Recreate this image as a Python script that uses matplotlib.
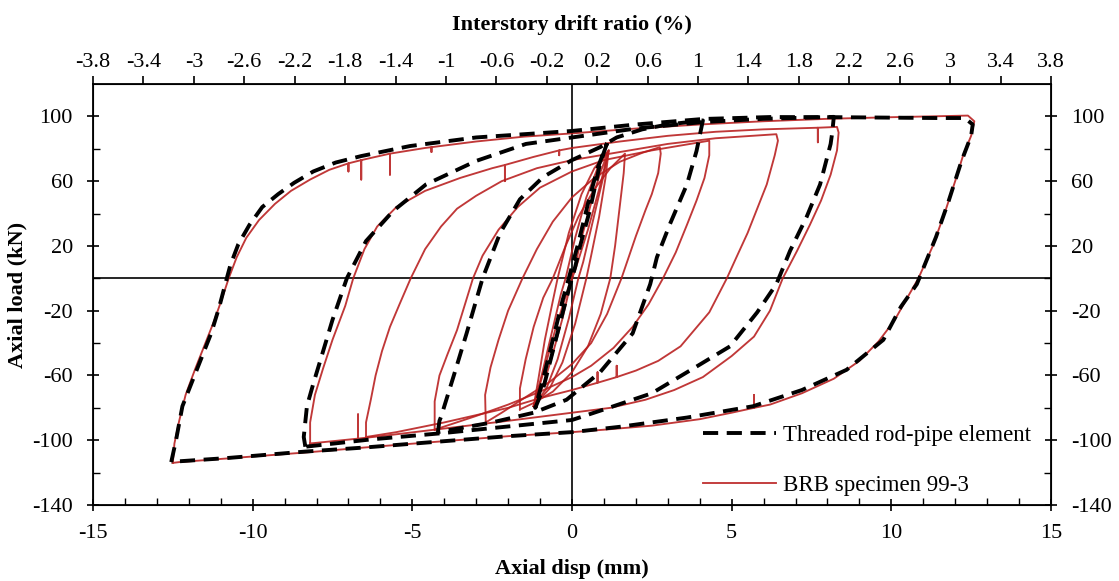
# Axial load vs axial displacement: BRB test 99-3 and threaded rod-pipe model

import numpy as np
import matplotlib.pyplot as plt
from matplotlib.ticker import MultipleLocator, FixedLocator

plt.rcParams['font.family'] = ['Liberation Serif', 'DejaVu Serif']
plt.rcParams['font.size'] = 16
plt.rcParams['axes.unicode_minus'] = False


# TEST LOOPS (BRB specimen 99-3), points as (disp mm, load kN)

brb_125 = [(-12.5, -114), (-12.45, -102), (-12.3, -88), (-12.1, -72), (-11.8, -56), (-11.5, -41),
           (-11.2, -26), (-10.95, -12), (-10.75, 0), (-10.5, 13), (-10.2, 25), (-9.8, 36),
           (-9.3, 46), (-8.8, 54), (-8.2, 61), (-7.6, 67), (-7.0, 71), (-7.0, 66), (-7.0, 71),
           (-6.6, 73), (-6.6, 61), (-6.6, 73), (-5.7, 77), (-5.7, 64), (-5.7, 77),
           (-4.6, 80.5), (-4.4, 81), (-4.4, 78), (-4.4, 81), (-3.0, 84.5), (-1.5, 87.5), (0, 89.5),
           (2, 92.5), (4, 95), (6, 97), (8, 98.5), (10, 99.5), (12.4, 100.5),
           (12.6, 97), (12.5, 88), (12.25, 76), (12.0, 60), (11.7, 42), (11.3, 20), (10.85, 0),
           (10.5, -12), (10.1, -26), (9.6, -39), (9.0, -51), (8.2, -62), (7.2, -71), (6.2, -78),
           (5.7, -80), (5.7, -72), (5.7, -80), (5.0, -83), (4.0, -87), (2.5, -91), (1, -93.5),
           (0, -95), (-2, -97.5), (-4.6, -101.5), (-6.5, -104.5), (-8.3, -107.5), (-10.3, -110.5),
           (-12.3, -113.5), (-12.5, -114)]

brb_8 = [(-8.2, -104), (-8.2, -89), (-8.05, -72), (-7.8, -56), (-7.5, -38), (-7.1, -17),
         (-6.85, 0), (-6.5, 18), (-6.1, 32), (-5.5, 44), (-4.6, 54), (-3.5, 62), (-2.5, 68),
         (-2.1, 70), (-2.1, 60), (-2.1, 70), (-1.2, 75), (-0.4, 79), (-0.4, 76), (-0.4, 79),
         (0, 80.5), (1.5, 84.5), (3, 88), (4.5, 90.5), (6, 92), (7.7, 93), (7.7, 84), (7.7, 93),
         (8.3, 93.5), (8.35, 90), (8.3, 79), (8.1, 64), (7.8, 48), (7.45, 33), (7.05, 17),
         (6.6, 0), (6.2, -20), (5.7, -36), (5.0, -48), (4.1, -61), (3.2, -69), (2.3, -75),
         (1.2, -80), (0, -83), (-2, -88), (-4.1, -93), (-6, -97.5), (-6.7, -99), (-6.7, -84),
         (-6.7, -99), (-8.2, -102), (-8.2, -104)]

brb_65 = [(-6.45, -98), (-6.45, -89), (-6.3, -75), (-6.15, -60), (-5.95, -45), (-5.7, -30),
          (-5.4, -16), (-5.05, 0), (-4.6, 18), (-4.1, 32), (-3.6, 43), (-3.0, 51), (-2.2, 60),
          (-1.1, 68), (0, 73), (1.5, 78), (3, 83), (4.5, 86.5), (6.4, 89),
          (6.45, 85), (6.35, 76), (6.1, 58), (5.8, 43), (5.5, 28), (5.15, 13), (4.85, 0),
          (4.3, -21), (3.4, -42), (2.7, -51), (2.0, -57), (1.4, -61), (1.4, -54), (1.4, -61),
          (0.8, -64.5), (0.8, -58), (0.8, -64.5), (0, -69), (-1, -74), (-2, -80), (-4, -89),
          (-5.5, -95), (-6.45, -98)]

brb_4 = [(-4.3, -93.5), (-4.3, -76), (-4.15, -60), (-3.9, -47), (-3.6, -32), (-3.35, -16),
         (-3.1, 0), (-2.8, 14), (-2.3, 30), (-1.7, 44), (-1.0, 56), (0, 66), (1, 73),
         (2.5, 79), (4.3, 85),
         (4.3, 76), (4.15, 62), (3.9, 48), (3.6, 33), (3.25, 16), (2.85, 0), (2.4, -16),
         (1.9, -30), (1.3, -43), (0.6, -54), (0, -61), (-1, -70), (-2, -78), (-3, -85),
         (-4.3, -93.5)]

brb_28 = [(-2.7, -89), (-2.72, -72), (-2.55, -55), (-2.3, -38), (-2.0, -20), (-1.55, 0),
          (-1.1, 18), (-0.6, 35), (0, 50), (0.7, 62), (1.5, 72), (2.2, 77.5), (2.75, 81),
          (2.78, 77), (2.7, 65), (2.5, 52), (2.3, 42), (2.0, 26), (1.55, 0), (1.1, -22),
          (0.6, -40), (0, -53), (-0.7, -64), (-1.5, -74), (-2.2, -83), (-2.7, -89)]

brb_16 = [(-1.63, -81), (-1.63, -68), (-1.45, -50), (-1.2, -30), (-0.9, -12), (-0.6, 0),
          (-0.2, 20), (0.2, 38), (0.7, 55), (1.2, 68), (1.66, 77),
          (1.62, 65), (1.5, 45), (1.35, 20), (1.2, 0), (0.9, -22), (0.5, -42), (0, -58),
          (-0.6, -70), (-1.2, -77), (-1.63, -81)]

brb_12a = [(-1.2, -79), (-0.95, -60), (-0.65, -35), (-0.35, -10), (-0.2, 0), (0.1, 25),
           (0.45, 50), (0.8, 68), (1.15, 79),
           (0.95, 60), (0.65, 35), (0.35, 10), (0.2, 0), (-0.1, -25), (-0.45, -50),
           (-0.8, -68), (-1.2, -79)]

brb_12b = [(-1.2, -79), (-1.05, -62), (-0.85, -38), (-0.6, -14), (-0.45, 0), (-0.1, 28),
           (0.3, 52), (0.7, 68), (1.15, 79),
           (1.05, 62), (0.85, 38), (0.6, 14), (0.45, 0), (0.1, -28), (-0.3, -52),
           (-0.7, -68), (-1.2, -79)]

brb_12c = [(-1.2, -79), (-0.85, -55), (-0.5, -30), (-0.1, -5), (0.0, 0), (0.3, 25),
           (0.65, 50), (0.9, 66), (1.15, 79),
           (0.85, 55), (0.5, 30), (0.1, 5), (0.0, 0), (-0.3, -25), (-0.65, -50),
           (-0.9, -66), (-1.2, -79)]


# MODEL LOOPS (threaded rod-pipe element)

model_125 = [(-12.55, -113.5), (-12.4, -100), (-12.2, -79), (-11.9, -64), (-11.6, -49),
             (-11.3, -34), (-11.05, -18), (-10.85, -3), (-10.7, 8), (-10.45, 21), (-10.1, 33),
             (-9.7, 44), (-9.2, 52), (-8.7, 59), (-8.1, 66), (-7.4, 71.5), (-6.6, 75.5),
             (-5.07, 81.7), (-3.0, 87), (0, 91), (2.0, 95), (4.1, 98.4), (6.2, 99.6),
             (8.3, 99.5), (11.4, 99), (12.3, 99), (12.55, 95), (12.5, 88), (12.2, 72.5),
             (11.8, 48), (11.4, 25.5), (10.8, -3.6), (10.3, -17.6), (9.75, -38), (8.6, -56.5),
             (7.2, -69), (5.67, -79), (3.6, -86), (1.5, -91.7), (0, -95), (-2, -97.5),
             (-4.6, -101.5), (-6.5, -104.5), (-8.35, -107), (-10.8, -111), (-12.3, -113),
             (-12.55, -113.5)]

model_8 = [(-8.35, -104), (-8.4, -98), (-8.3, -79), (-8.1, -65), (-7.9, -52), (-7.5, -25.7),
           (-7.05, 0), (-6.45, 23), (-5.6, 41.6), (-4.57, 58), (-3.0, 72.5), (-1.44, 83),
           (0, 87), (2, 92.5), (4.1, 96.5), (6, 98.5), (8.2, 99.7), (8.15, 90), (8.1, 83),
           (7.77, 58), (7.35, 38), (6.83, 17), (6.4, -3.6), (5.8, -21), (4.95, -42),
           (3.9, -54.5), (2.5, -71), (1.0, -81), (0, -87.5), (-2, -91.5), (-4.1, -95.7),
           (-6.3, -99.5), (-8.35, -104)]

model_4 = [(-4.2, -95), (-4.15, -88), (-4.1, -85.5), (-3.7, -60), (-3.3, -34), (-2.8, 0),
           (-2.25, 28), (-1.63, 48.8), (-0.9, 62.6), (0, 73), (0.88, 81), (1.4, 87),
           (2.2, 92), (3.0, 95), (4.1, 97.5), (3.9, 78.6), (3.6, 58), (3.07, 33.6),
           (2.66, 13), (2.45, -3.6), (1.9, -34), (0.88, -58), (-0.17, -75), (-1.2, -83),
           (-2.5, -89), (-4.2, -95)]

model_12 = [(1.1, 83.5), (0.88, 71), (0.56, 42), (0.25, 19.6), (0.1, 7), (-0.1, -7),
            (-0.3, -22), (-0.6, -45), (-0.9, -68), (-1.15, -80), (-0.9, -62), (-0.6, -38),
            (-0.3, -14), (-0.1, 0), (0.2, 22), (0.5, 46), (0.8, 68), (1.1, 83.5)]

test_loops = [brb_125, brb_8, brb_65, brb_4, brb_28, brb_16, brb_12a, brb_12b, brb_12c]
model_loops = [model_125, model_8, model_4, model_12]

disp_ticks = np.arange(-15, 16, 5)
load_ticks = np.arange(-140, 101, 40)
drift_ticks = np.round(np.arange(-3.8, 3.81, 0.4), 1)


# PLOTTING

fig = plt.figure(figsize=(11.19, 5.81), dpi=100)
ax = fig.add_axes([0.0831, 0.1308, 0.8561, 0.7246])

red = '#B81C1C'
for i, loop in enumerate(test_loops):
    d, f = zip(*loop)
    ax.plot(d, f, color=red, lw=1.35, alpha=0.88, zorder=3,
            label='BRB specimen 99-3' if i == 0 else None)

for i, loop in enumerate(model_loops):
    d, f = zip(*loop)
    ax.plot(d, f, color='black', lw=2.8, dashes=(3.9, 2.2), zorder=4,
            label='Threaded rod-pipe element' if i == 0 else None)

ax.axhline(0, color='black', lw=1.2, zorder=2)
ax.axvline(0, color='black', lw=1.2, zorder=2)

ax.set_xlim(-15, 15)
ax.set_ylim(-140, 120)
ax.set_xticks(disp_ticks)
ax.xaxis.set_minor_locator(MultipleLocator(1))
ax.yaxis.set_major_locator(FixedLocator(load_ticks))
ax.yaxis.set_minor_locator(FixedLocator(load_ticks[:-1] + 20))
ax.tick_params(which='major', direction='inout', length=9, width=1.2,
               right=True, labelright=True)
ax.tick_params(which='minor', direction='in', length=5, width=1.0, right=True)
ax.tick_params(axis='x', which='major', pad=9)
ax.tick_params(axis='y', which='major', pad=10)
for s in ax.spines.values():
    s.set_linewidth(1.3)

ax.set_xlabel('Axial disp (mm)', fontweight='bold', labelpad=12)
ax.set_ylabel('Axial load (kN)', fontweight='bold', labelpad=3)

handles, labels = ax.get_legend_handles_labels()
ax.legend(handles[::-1], labels[::-1], loc='lower right', bbox_to_anchor=(0.99, -0.004),
          frameon=False, fontsize=16.5, handlelength=3.2, labelspacing=1.3,
          handletextpad=0.3, borderpad=0.2, borderaxespad=0.25)

ax_top = ax.twiny()
ax_top.set_xlim(-3.8, 3.8)
ax_top.set_xticks(drift_ticks)
ax_top.set_xticklabels(['%g' % v for v in drift_ticks])
ax_top.tick_params(direction='out', length=6, width=1.2, pad=3)
ax_top.set_xlabel('Interstory drift ratio (%)', fontweight='bold', labelpad=16)

fig.savefig('out.png', dpi=100)
